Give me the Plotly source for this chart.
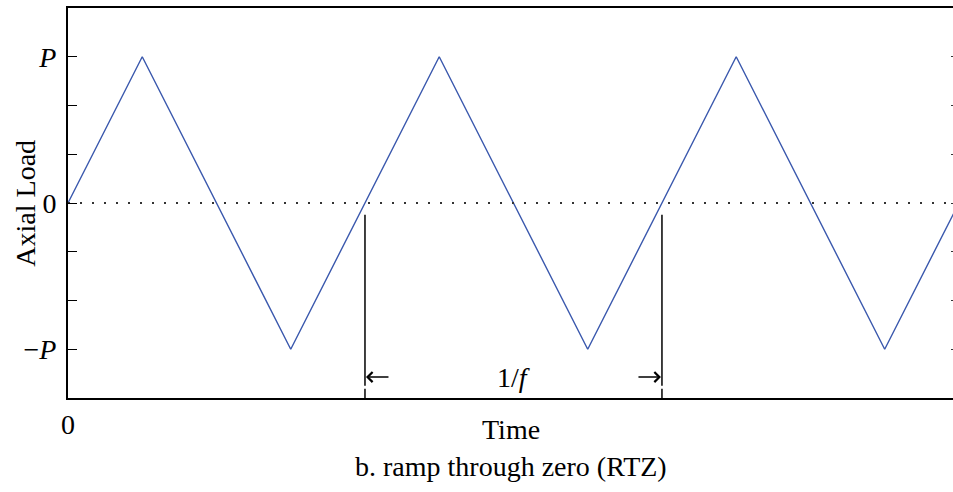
import plotly.graph_objects as go

# Data (time in quarter-periods, load in units of P)
time_pts = [0, 1, 3, 5, 7, 9, 11, 12]
load_pts = [0, 1, -1, 1, -1, 1, -1, 0]
zero_x = [0, 12]
zero_y = [0, 0]
period_marks = [4, 8]          # upward zero crossings marking one period 1/f
mark_top = -0.08
mark_bot = -1.25
mark_stub = [-1.27, -4 / 3]
ytick_vals = [-1, -2 / 3, -1 / 3, 0, 1 / 3, 2 / 3, 1]
ytick_text = ["\u2212<i>P</i>", "", "", "0", "", "", "<i>P</i>"]
xtick_vals = [0]
xtick_text = ["0"]
x_range = [0, 11.92]
y_range = [-4 / 3, 4 / 3]

FONT = "Liberation Serif, Times New Roman, serif"

fig = go.Figure()

# dotted zero line (on overlay axis that carries the right-hand ticks)
fig.add_trace(go.Scatter(x=zero_x, y=zero_y, mode="lines", yaxis="y2",
                         line=dict(color="#333", width=2, dash="2px,10px"),
                         hoverinfo="skip", showlegend=False))

# triangle wave
fig.add_trace(go.Scatter(x=time_pts, y=load_pts, mode="lines",
                         line=dict(color="#3a58ad", width=1.4),
                         showlegend=False))

# period marker lines
for xm in period_marks:
    fig.add_trace(go.Scatter(x=[xm, xm], y=[mark_top, mark_bot], mode="lines",
                             line=dict(color="black", width=1.5), showlegend=False))
    fig.add_trace(go.Scatter(x=[xm, xm], y=mark_stub, mode="lines",
                             line=dict(color="black", width=1.5), showlegend=False))

arrow_y = -1.19
fig.add_annotation(x=period_marks[0], y=arrow_y, text="", showarrow=True,
                   ax=25, ay=0, arrowhead=4, arrowsize=1.3, arrowwidth=1.5,
                   arrowcolor="black", standoff=1)
fig.add_annotation(x=period_marks[1], y=arrow_y, text="", showarrow=True,
                   ax=-25, ay=0, arrowhead=4, arrowsize=1.3, arrowwidth=1.5,
                   arrowcolor="black", standoff=1)
fig.add_annotation(x=(period_marks[0] + period_marks[1]) / 2, y=arrow_y,
                   text="1/<i>f</i>", showarrow=False, yanchor="middle",
                   font=dict(family=FONT, size=28, color="black"))

# axis titles and caption
fig.add_annotation(xref="paper", yref="paper", x=-0.049, y=0.5, textangle=-90,
                   xanchor="center", yanchor="middle",
                   text="Axial Load", showarrow=False,
                   font=dict(family=FONT, size=28, color="black"))
fig.add_annotation(xref="paper", yref="paper", x=0.5, y=-0.037, yanchor="top",
                   text="Time", showarrow=False,
                   font=dict(family=FONT, size=28, color="black"))
fig.add_annotation(xref="paper", yref="paper", x=0.5, y=-0.132, yanchor="top",
                   text="b. ramp through zero (RTZ)", showarrow=False,
                   font=dict(family=FONT, size=28, color="black"))

fig.update_layout(
    width=953, height=492,
    margin=dict(l=68, r=0, t=8, b=94, autoexpand=False),
    paper_bgcolor="white", plot_bgcolor="white",
    font=dict(family=FONT, size=28, color="black"),
    xaxis=dict(range=x_range, showgrid=False, zeroline=False, automargin=False,
               showline=True, linecolor="black", linewidth=2, mirror=True,
               ticks="", tickvals=xtick_vals, ticktext=xtick_text,
               ticklabelstandoff=0),
    yaxis=dict(range=y_range, showgrid=False, zeroline=False, automargin=False,
               showline=True, linecolor="black", linewidth=2, mirror=False,
               ticks="inside", ticklen=9, tickwidth=1, tickcolor="black",
               tickvals=ytick_vals, ticktext=ytick_text,
               ticklabelstandoff=4),
    yaxis2=dict(range=y_range, overlaying="y", side="right", anchor="free",
                position=1, showgrid=False, zeroline=False, showline=False,
                automargin=False,
                ticks="inside", ticklen=2, tickwidth=1, tickcolor="#333",
                tickvals=ytick_vals, showticklabels=False),
)

fig.write_html("out.html")
